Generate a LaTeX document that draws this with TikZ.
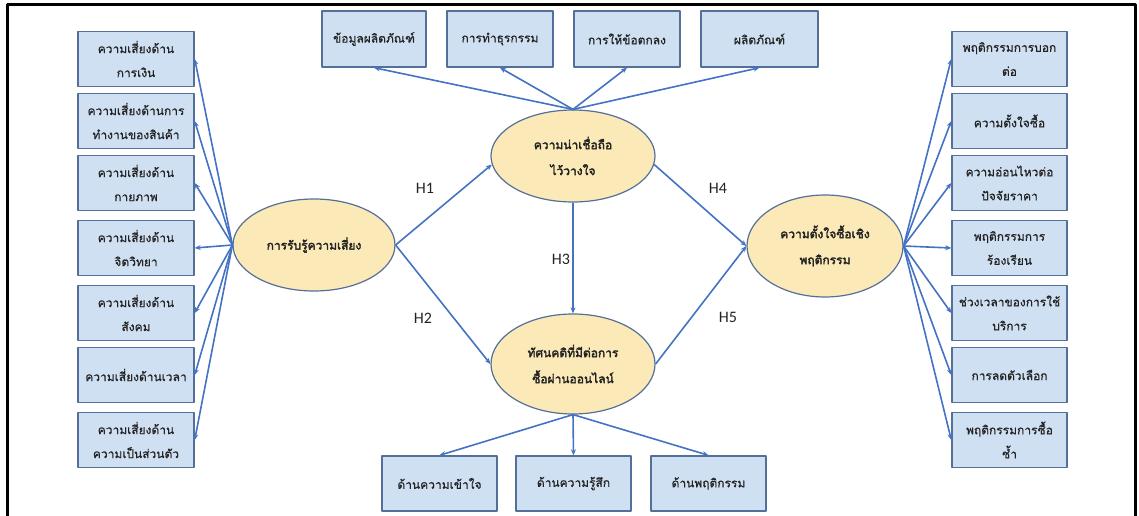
\documentclass[tikz,border=0pt]{standalone}
\usepackage{fontspec}
\newfontfamily\thaifont[Script=Thai,FakeBold=0.6]{Loma}
\newfontfamily\thaibold[Script=Thai,FakeBold=2.6]{Loma}
\newfontfamily\hfont{Carlito}
\usetikzlibrary{shapes.geometric,arrows.meta}
\definecolor{boxblue}{RGB}{207,224,242}
\definecolor{boxline}{RGB}{84,112,152}
\definecolor{ovalfill}{RGB}{251,234,184}
\definecolor{arrowblue}{RGB}{68,114,196}
\definecolor{txtgray}{RGB}{35,35,35}

\begin{document}
\begin{tikzpicture}[x=1pt, y=-1pt, line join=round,
        box/.style={draw=boxline, fill=boxblue, line width=1.4pt, minimum height=55pt,
            align=center, inner sep=2pt, text=txtgray,
            font=\thaifont\fontsize{12}{24}\selectfont},
        oval/.style={ellipse, draw=boxline, fill=ovalfill, line width=1.2pt, inner sep=0pt,
            align=center, text=txtgray, font=\thaibold\fontsize{12}{26}\selectfont},
        arr/.style={draw=arrowblue, line width=1.6pt, -{Stealth[length=6pt,width=5pt]}},
        hlab/.style={text=txtgray, font=\hfont\fontsize{16}{18}\selectfont}]
        \useasboundingbox (0,0) rectangle (1139,516);
        \draw[line width=3pt] (7,516) -- (7,5) -- (1135,5) -- (1135,516);
        % latent variables
        \node[oval, minimum width=162pt, minimum height=92pt]  (risk)     at (314,245) {การรับรู้ความเสี่ยง};
        \node[oval, minimum width=164pt, minimum height=92pt]  (trust)    at (573,156) {ความน่าเชื่อถือ\\ไว้วางใจ};
        \node[oval, minimum width=164pt, minimum height=100pt] (attitude) at (573,364) {ทัศนคติที่มีต่อการ\\ซื้อผ่านออนไลน์};
        \node[oval, minimum width=156pt, minimum height=102pt] (intent)   at (825,246) {ความตั้งใจซื้อเชิง\\พฤติกรรม};
        % indicators, left
        \foreach \i/\yy/\txt in {1/59/{ความเสี่ยงด้าน\\การเงิน}, 2/121/{ความเสี่ยงด้านการ\\ทำงานของสินค้า},
                3/183/{ความเสี่ยงด้าน\\กายภาพ}, 4/248/{ความเสี่ยงด้าน\\จิตวิทยา}, 5/313/{ความเสี่ยงด้าน\\สังคม},
                6/375/{ความเสี่ยงด้านเวลา}, 7/440/{ความเสี่ยงด้าน\\ความเป็นส่วนตัว}} {
            \node[box, minimum width=116pt] (l\i) at (136,\yy) {\txt};
            \draw[arr] (risk.west) -- (l\i.east);
        }
        % indicators, right
        \foreach \i/\yy/\txt in {1/59/{พฤติกรรมการบอก\\ต่อ}, 2/121/{ความตั้งใจซื้อ},
                3/183/{ความอ่อนไหวต่อ\\ปัจจัยราคา}, 4/248/{พฤติกรรมการ\\ร้องเรียน}, 5/313/{ช่วงเวลาของการใช้\\บริการ},
                6/375/{การลดตัวเลือก}, 7/440/{พฤติกรรมการซื้อ\\ซ้ำ}} {
            \node[box, minimum width=115pt] (r\i) at (1009.5,\yy) {\txt};
            \draw[arr] (intent.east) -- (r\i.west);
        }
        % indicators, top
        \foreach \i/\xx/\ww/\txt in {1/374/104/ข้อมูลผลิตภัณฑ์, 2/500/106/การทำธุรกรรม,
                3/627/106/การให้ข้อตกลง, 4/759.5/117/ผลิตภัณฑ์} {
            \node[box, minimum width=\ww pt, minimum height=56pt] (t\i) at (\xx,39) {\txt};
            \draw[arr] (trust.north) -- (t\i.south);
        }
        % indicators, bottom
        \foreach \i/\xx/\txt in {1/439.5/ด้านความเข้าใจ, 2/573.5/ด้านความรู้สึก, 3/708.5/ด้านพฤติกรรม} {
            \node[box, minimum width=115pt] (b\i) at (\xx,483.5) {\txt};
            \draw[arr] (attitude.south) -- (b\i.north);
        }
        % hypotheses
        \draw[arr] (risk.east) -- (trust.186);
        \draw[arr] (risk.east) -- (attitude.west);
        \draw[arr] (trust.south) -- (attitude.north);
        \draw[arr] (trust.-6) -- (intent.west);
        \draw[arr] (attitude.east) -- (intent.west);
        \node[hlab] (h1) at (425,188) {H1};
        \node[hlab] (h2) at (423,318) {H2};
        \node[hlab] (h3) at (561,259) {H3};
        \node[hlab] (h4) at (718,188) {H4};
        \node[hlab] (h5) at (728,317) {H5};
\end{tikzpicture}
\end{document}
